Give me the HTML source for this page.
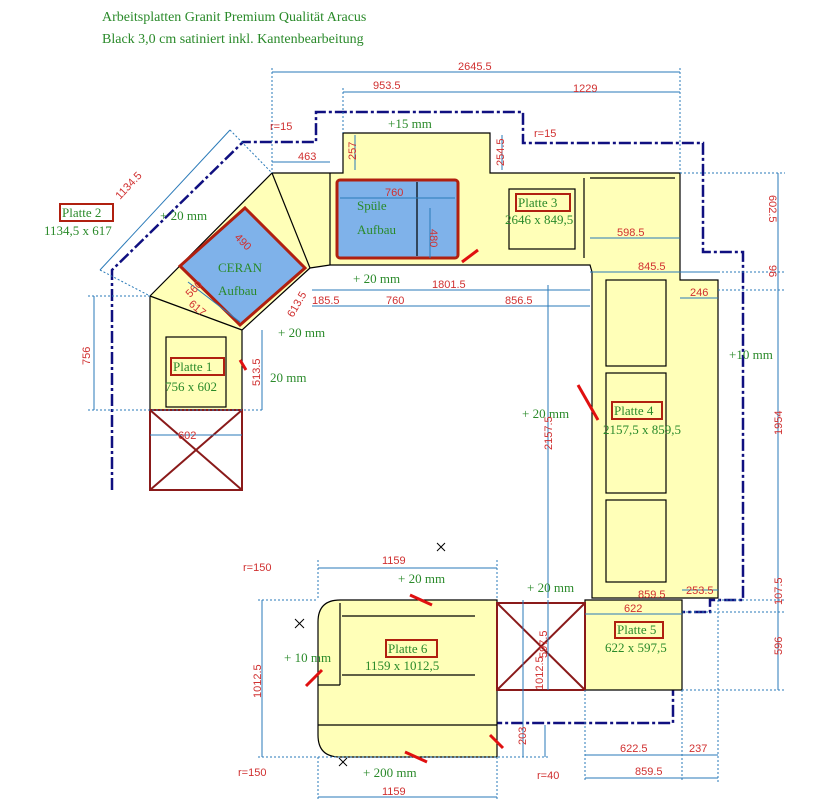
<!DOCTYPE html>
<html><head><meta charset="utf-8"><style>
html,body{margin:0;padding:0;background:#fff}
svg{display:block}
.t{font-family:"Liberation Serif",serif;fill:#2a8a2a}
.d{font-family:"Liberation Sans",sans-serif;fill:#d03030;font-size:11px}
.b{stroke:#2a7ab8;stroke-width:1;fill:none}
.bd{stroke:#2a7ab8;stroke-width:1;fill:none;stroke-dasharray:2 2}
.k{stroke:#000;stroke-width:1.2;fill:none}
.y{fill:#ffffb8;stroke:#000;stroke-width:1.2}
.n{stroke:#101080;stroke-width:2.5;fill:none;stroke-dasharray:12 3 3 3}
.r{fill:none;stroke:#b02010;stroke-width:2}
.rs{stroke:#e01010;stroke-width:3}
</style></head><body>
<svg width="828" height="807" viewBox="0 0 828 807">
<text class="t" x="102" y="21" font-size="14">Arbeitsplatten Granit Premium Qualität Aracus</text>
<text class="t" x="102" y="43" font-size="14">Black 3,0 cm satiniert inkl. Kantenbearbeitung</text>

<!-- navy outline -->
<polyline class="n" points="112,490 112,270 243,142 316,142 316,112 523,112 523,143 703,143 703,252 743,252 743,600 710,600 710,612 673,612 673,723 497,723"/>

<!-- plates -->
<polygon class="y" points="150,296 272,173 343,173 343,133 490,133 490,173 680,173 680,280 718,280 718,598 592,598 592,272 590,265 330,265 310,268 242,330 242,410 150,410"/>
<polygon class="y" points="585,600 682,600 682,690 585,690"/>
<path class="y" d="M343,600 H497 V757 H340 Q318,757 318,735 V622 Q318,600 340,600 Z"/>
<!-- inner lines -->
<polyline class="k" points="150,296 242,330"/>
<polyline class="k" points="272,173 310,268"/>
<line class="k" x1="330" y1="173" x2="330" y2="265"/>
<rect class="k" x="509" y="189" width="66" height="60"/>
<rect class="k" x="606" y="280" width="60" height="86"/>
<rect class="k" x="606" y="373" width="60" height="120"/>
<rect class="k" x="606" y="500" width="60" height="82"/>
<rect class="k" x="166" y="337" width="60" height="70"/>
<line class="k" x1="318" y1="685" x2="340" y2="685"/>
<line class="k" x1="340" y1="603" x2="340" y2="685"/>
<line class="k" x1="318" y1="725" x2="497" y2="725"/>
<line class="k" x1="342" y1="616" x2="475" y2="616"/>
<line class="k" x1="342" y1="675" x2="475" y2="675"/>
<line class="k" x1="584" y1="178" x2="584" y2="258"/>
<line class="k" x1="590" y1="178" x2="675" y2="178"/>

<!-- sinks -->
<polygon points="245,208 305,268 240,325 180,266" fill="#7fb2ea" stroke="#b02010" stroke-width="3"/>
<rect x="337" y="180" width="121" height="78" fill="#7fb2ea" stroke="#b02010" stroke-width="3" rx="3"/>
<line class="k" x1="417" y1="182" x2="417" y2="256"/>

<!-- X boxes -->
<g stroke="#8a1a1a" stroke-width="2" fill="none">
<rect x="150" y="410" width="92" height="80"/><line x1="150" y1="410" x2="242" y2="490"/><line x1="242" y1="410" x2="150" y2="490"/>
<rect x="497" y="603" width="88" height="87"/><line x1="497" y1="603" x2="585" y2="690"/><line x1="585" y1="603" x2="497" y2="690"/>
</g>

<!-- dimension lines -->
<g class="b">
<line x1="272" y1="72" x2="680" y2="72"/><line x1="343" y1="92" x2="680" y2="92"/>
<line x1="272" y1="162" x2="330" y2="162"/>
<line x1="355" y1="135" x2="355" y2="170"/><line x1="502" y1="135" x2="502" y2="170"/>
<line x1="590" y1="238" x2="680" y2="238"/><line x1="590" y1="272" x2="718" y2="272"/>
<line x1="680" y1="298" x2="718" y2="298"/>
<line x1="778" y1="173" x2="778" y2="690"/>
<line x1="312" y1="290" x2="590" y2="290"/><line x1="312" y1="306" x2="590" y2="306"/>
<line x1="430" y1="208" x2="430" y2="258"/><line x1="340" y1="198" x2="455" y2="198"/>
<line x1="94" y1="296" x2="94" y2="410"/><line x1="262" y1="330" x2="262" y2="410"/>
<line x1="150" y1="435" x2="242" y2="435"/>
<line x1="548" y1="285" x2="548" y2="598"/>
<line x1="318" y1="568" x2="497" y2="568"/><line x1="318" y1="797" x2="497" y2="797"/>
<line x1="262" y1="600" x2="262" y2="757"/><line x1="523" y1="600" x2="523" y2="757"/>
<line x1="545" y1="725" x2="545" y2="757"/><line x1="548" y1="600" x2="548" y2="690"/>
<line x1="585" y1="614" x2="682" y2="614"/><line x1="585" y1="755" x2="682" y2="755"/><line x1="585" y1="778" x2="718" y2="778"/><line x1="682" y1="755" x2="718" y2="755"/>
<line x1="682" y1="590" x2="718" y2="590"/>
<line x1="100" y1="270" x2="230" y2="130"/>
<line x1="188" y1="282" x2="240" y2="322"/>
</g>
<g class="bd">
<line x1="272" y1="68" x2="272" y2="173"/><line x1="680" y1="68" x2="680" y2="173"/><line x1="343" y1="88" x2="343" y2="133"/>
<line x1="680" y1="173" x2="785" y2="173"/><line x1="718" y1="272" x2="785" y2="272"/><line x1="718" y1="290" x2="785" y2="290"/>
<line x1="718" y1="600" x2="785" y2="600"/><line x1="682" y1="612" x2="785" y2="612"/><line x1="682" y1="690" x2="785" y2="690"/>
<line x1="88" y1="296" x2="150" y2="296"/><line x1="88" y1="410" x2="262" y2="410"/>
<line x1="318" y1="560" x2="318" y2="600"/><line x1="497" y1="560" x2="497" y2="600"/>
<line x1="318" y1="757" x2="318" y2="800"/><line x1="497" y1="757" x2="497" y2="800"/>
<line x1="258" y1="600" x2="318" y2="600"/><line x1="258" y1="757" x2="550" y2="757"/>
<line x1="585" y1="690" x2="585" y2="782"/><line x1="682" y1="690" x2="682" y2="782"/><line x1="718" y1="600" x2="718" y2="782"/>
<line x1="100" y1="270" x2="150" y2="296"/><line x1="230" y1="130" x2="272" y2="173"/>
</g>

<!-- red strokes -->
<g class="rs">
<line x1="462" y1="262" x2="478" y2="250"/><line x1="410" y1="595" x2="432" y2="605"/><line x1="405" y1="752" x2="427" y2="762"/>
<line x1="306" y1="686" x2="322" y2="670"/><line x1="490" y1="735" x2="503" y2="748"/><line x1="240" y1="360" x2="246" y2="370"/>
<line x1="578" y1="385" x2="598" y2="420"/>
</g>

<!-- labels -->
<g font-family="Liberation Serif,serif" font-size="13" fill="#2a8a2a">
<rect class="r" x="60" y="204" width="53" height="17"/><text x="62" y="217">Platte 2</text><text x="44" y="235">1134,5 x 617</text>
<rect class="r" x="171" y="358" width="53" height="17"/><text x="173" y="371">Platte 1</text><text x="165" y="391">756 x 602</text>
<rect class="r" x="516" y="194" width="54" height="17"/><text x="518" y="207">Platte 3</text><text x="505" y="224">2646 x 849,5</text>
<rect class="r" x="612" y="402" width="50" height="17"/><text x="614" y="415">Platte 4</text><text x="603" y="434">2157,5 x 859,5</text>
<rect class="r" x="615" y="622" width="48" height="16"/><text x="617" y="634">Platte 5</text><text x="605" y="652">622 x 597,5</text>
<rect class="r" x="386" y="640" width="51" height="17"/><text x="388" y="653">Platte 6</text><text x="365" y="670">1159 x 1012,5</text>
<text x="357" y="210">Spüle</text><text x="357" y="234">Aufbau</text>
<text x="218" y="272">CERAN</text><text x="218" y="295">Aufbau</text>
<text x="160" y="220">+ 20 mm</text><text x="388" y="128">+15 mm</text><text x="353" y="283">+ 20 mm</text>
<text x="278" y="337">+ 20 mm</text><text x="270" y="382">20 mm</text><text x="729" y="359">+10 mm</text>
<text x="522" y="418">+ 20 mm</text><text x="398" y="583">+ 20 mm</text><text x="527" y="592">+ 20 mm</text>
<text x="284" y="662">+ 10 mm</text><text x="363" y="777">+ 200 mm</text>
</g>
<g class="d">
<text x="458" y="70">2645.5</text><text x="373" y="89">953.5</text><text x="573" y="92">1229</text>
<text x="298" y="160">463</text><text x="270" y="130">r=15</text><text x="534" y="137">r=15</text>
<text x="385" y="196">760</text><text x="617" y="236">598.5</text><text x="638" y="270">845.5</text><text x="690" y="296">246</text>
<text x="432" y="288">1801.5</text><text x="312" y="304">185.5</text><text x="386" y="304">760</text><text x="505" y="304">856.5</text>
<text x="178" y="439" font-size="11">602</text>
<text x="382" y="564">1159</text><text x="382" y="795">1159</text><text x="243" y="571">r=150</text><text x="238" y="776">r=150</text><text x="537" y="779">r=40</text>
<text x="638" y="598">859.5</text><text x="686" y="594">253.5</text><text x="624" y="612">622</text>
<text x="620" y="752">622.5</text><text x="689" y="752">237</text><text x="635" y="775">859.5</text>
<text transform="translate(356,160) rotate(-90)">257</text><text transform="translate(504,166) rotate(-90)">254.5</text>
<text transform="translate(430,229) rotate(90)">480</text>
<text transform="translate(90,365) rotate(-90)">756</text><text transform="translate(260,386) rotate(-90)">513.5</text>
<text transform="translate(552,450) rotate(-90)">2157.5</text>
<text transform="translate(769,195) rotate(90)">602.5</text><text transform="translate(769,265) rotate(90)">96</text>
<text transform="translate(782,435) rotate(-90)">1954</text><text transform="translate(782,605) rotate(-90)">107.5</text><text transform="translate(782,655) rotate(-90)">596</text>
<text transform="translate(261,698) rotate(-90)">1012.5</text><text transform="translate(543,690) rotate(-90)">1012.5</text>
<text transform="translate(547,658) rotate(-90)">597.5</text><text transform="translate(526,745) rotate(-90)">203</text>
<text transform="translate(120,200) rotate(-47)">1134.5</text>
<text transform="translate(190,298) rotate(-45)">560</text><text transform="translate(234,238) rotate(45)">490</text>
<text transform="translate(188,305) rotate(40)">617</text><text transform="translate(293,318) rotate(-60)">613.5</text>
</g>
<g stroke="#000" stroke-width="1"><path d="M437,543 l8,8 M445,543 l-8,8 M295,619 l9,9 M304,619 l-9,9 M339,758 l8,8 M347,758 l-8,8"/></g>
</svg>
</body></html>
